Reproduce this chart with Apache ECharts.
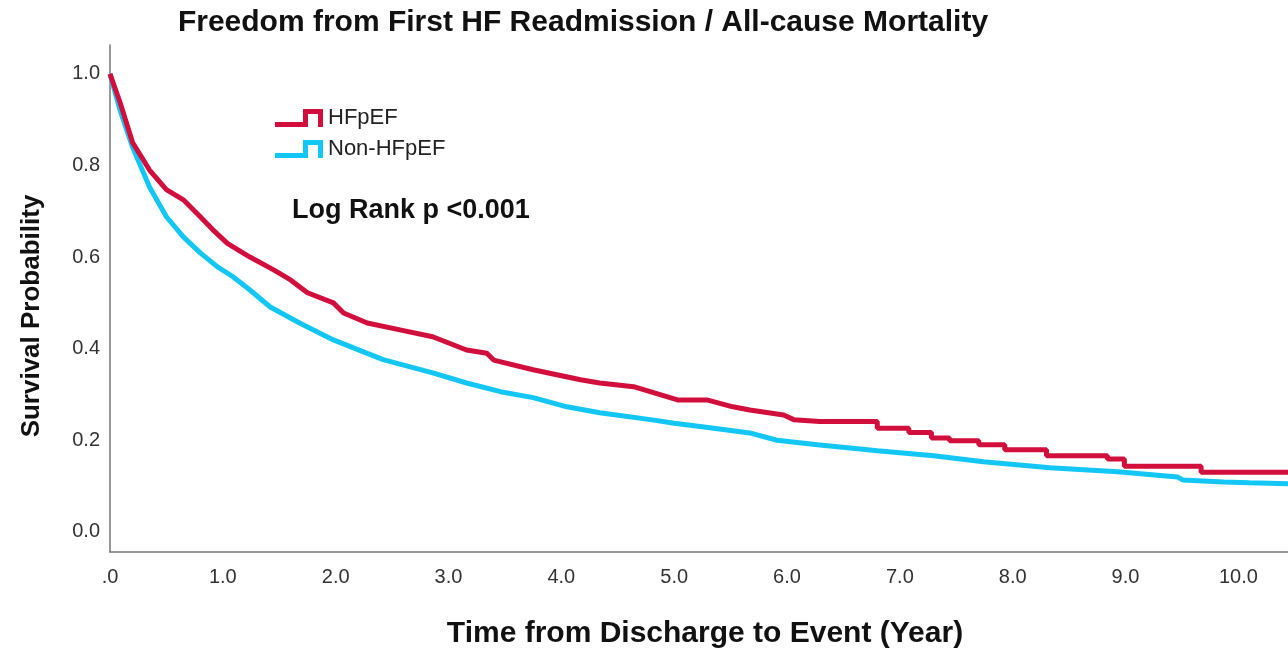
<!DOCTYPE html>
<html>
<head>
<meta charset="utf-8">
<script src="https://cdn.jsdelivr.net/npm/echarts@6/dist/echarts.min.js"></script>
<style>
  html, body { margin: 0; padding: 0; background: #fff; }
  #chart { width: 1288px; height: 649px; }
</style>
</head>
<body>
<div id="chart"></div>
<script>
// survival readings for each group (time in years)
var hfpefTime = [0, 0.09, 0.2, 0.35, 0.5, 0.65, 0.8, 0.91, 1.04, 1.24, 1.45, 1.6, 1.75, 1.98, 2.07, 2.28, 2.57, 2.86, 3.16, 3.34, 3.4, 3.75, 4.17, 4.34, 4.64, 5.03, 5.29, 5.52, 5.67, 5.97, 6.06, 6.29,
  6.8, 6.8, 7.08, 7.08, 7.28, 7.28, 7.44, 7.44, 7.7, 7.7, 7.93, 7.93, 8.3, 8.3, 8.84, 8.84, 8.99, 8.99, 9.67, 9.67, 10.44];
var hfpefSurv = [1.0, 0.937, 0.85, 0.79, 0.747, 0.725, 0.688, 0.66, 0.63, 0.6, 0.572, 0.55, 0.522, 0.5, 0.478, 0.456, 0.441, 0.426, 0.397, 0.39, 0.375, 0.354, 0.332, 0.325, 0.317, 0.288, 0.288, 0.273, 0.266, 0.255, 0.245, 0.241,
  0.241, 0.226, 0.226, 0.217, 0.217, 0.205, 0.205, 0.199, 0.199, 0.19, 0.19, 0.179, 0.179, 0.166, 0.166, 0.159, 0.159, 0.143, 0.143, 0.13, 0.13];

var nonTime = [0, 0.09, 0.2, 0.35, 0.5, 0.65, 0.8, 0.95, 1.09, 1.24, 1.42, 1.68, 1.98, 2.42, 2.86, 3.16, 3.46, 3.75, 4.05, 4.34, 4.79, 5.0, 5.3, 5.67, 5.91, 6.27, 6.8, 7.3, 7.74, 8.33, 8.93, 9.46, 9.51, 9.87, 10.1, 10.44];
var nonSurv = [1.0, 0.92, 0.84, 0.753, 0.688, 0.644, 0.609, 0.579, 0.557, 0.528, 0.491, 0.456, 0.419, 0.376, 0.347, 0.325, 0.306, 0.293, 0.273, 0.26, 0.245, 0.237, 0.228, 0.216, 0.2, 0.19, 0.177, 0.166, 0.153, 0.14, 0.131, 0.12, 0.113, 0.109, 0.107, 0.105];

var xTicks = [0, 1, 2, 3, 4, 5, 6, 7, 8, 9, 10];
var yTicks = [0, 0.2, 0.4, 0.6, 0.8, 1.0];

function pairs(t, s) {
  var out = [];
  for (var i = 0; i < t.length; i++) out.push([t[i], s[i]]);
  return out;
}

var font = "Liberation Sans, Arial, sans-serif";
var chart = echarts.init(document.getElementById("chart"));

var option = {
  animation: false,
  title: {
    text: "Freedom from First HF Readmission / All-cause Mortality",
    left: 578,
    textAlign: "center",
    top: 3,
    textStyle: { fontFamily: font, fontSize: 30, fontWeight: "bold", color: "#111" }
  },
  legend: {
    data: ["HFpEF", "Non-HFpEF"],
    orient: "vertical",
    left: 275,
    top: 107,
    padding: 0,
    itemWidth: 48,
    itemHeight: 18,
    itemGap: 9,
    icon: "path://M0,13 L28,13 L28,0 L48,0 L48,18 L43,18 L43,5 L33,5 L33,18 L0,18 Z",
    textStyle: { fontFamily: font, fontSize: 22, color: "#222" }
  },
  grid: { left: 110, right: 0, top: 45, bottom: 97, outerBoundsMode: "none" },
  xAxis: {
    type: "value",
    min: 0,
    max: 10.44,
    name: "Time from Discharge to Event (Year)",
    nameLocation: "middle",
    nameGap: 67,
    nameTextStyle: { fontFamily: font, fontSize: 30, fontWeight: "bold", color: "#111", padding: [0, 0, 0, 12] },
    axisLine: { onZero: false, lineStyle: { color: "#777", width: 1.5 } },
    axisTick: { show: false },
    splitLine: { show: false },
    axisLabel: {
      customValues: xTicks,
      margin: 15,
      fontFamily: font,
      fontSize: 20,
      color: "#333",
      formatter: function (v) { return v === 0 ? ".0" : v.toFixed(1); }
    }
  },
  yAxis: {
    type: "value",
    min: -0.044,
    max: 1.063,
    axisLine: { show: true, onZero: false, lineStyle: { color: "#777", width: 1.5 } },
    axisTick: { show: false },
    splitLine: { show: false },
    axisLabel: {
      customValues: yTicks,
      margin: 10,
      fontFamily: font,
      fontSize: 20,
      color: "#333",
      formatter: function (v) { return v.toFixed(1); }
    }
  },
  graphic: [
    {
      type: "text",
      x: 32,
      y: 316,
      rotation: Math.PI / 2,
      style: {
        text: "Survival Probability",
        font: "bold 26px " + font,
        fill: "#111",
        align: "center",
        verticalAlign: "middle"
      }
    },
    {
      type: "text",
      left: 292,
      top: 197,
      style: {
        text: "Log Rank p <0.001",
        font: "bold 27px " + font,
        fill: "#111"
      }
    }
  ],
  series: [
    {
      name: "Non-HFpEF",
      type: "line",
      showSymbol: false,
      symbol: "none",
      color: "#12c6f5",
      lineStyle: { width: 5, color: "#12c6f5" },
      data: pairs(nonTime, nonSurv)
    },
    {
      name: "HFpEF",
      type: "line",
      showSymbol: false,
      symbol: "none",
      color: "#d20f3c",
      lineStyle: { width: 5, color: "#d20f3c" },
      data: pairs(hfpefTime, hfpefSurv)
    }
  ]
};

chart.setOption(option);
</script>
</body>
</html>
